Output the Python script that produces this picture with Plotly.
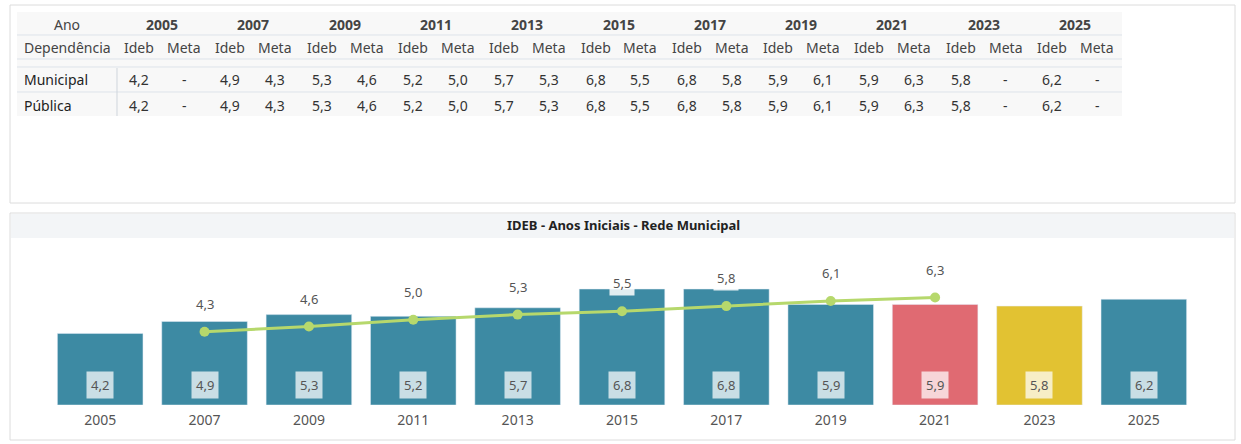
import plotly.graph_objects as go

W, H = 1241, 444
years = ["2005","2007","2009","2011","2013","2015","2017","2019","2021","2023","2025"]
ideb = [4.2,4.9,5.3,5.2,5.7,6.8,6.8,5.9,5.9,5.8,6.2]
meta = [None,4.3,4.6,5.0,5.3,5.5,5.8,6.1,6.3,None,None]
rows = ["Municipal","Pública"]
bar_colors = ["#3d8aa3"]*8 + ["#e06a72","#e2c232","#3d8aa3"]

def fmt(v):
    return "-" if v is None else f"{v:.1f}".replace(".", ",")

def px(x): return x / W
def py(y): return 1 - y / H

idx = list(range(len(years)))
fig = go.Figure()
fig.add_bar(x=idx, y=ideb, marker_color=bar_colors, width=0.82, hoverinfo="skip")
mi = [i for i, m in zip(idx, meta) if m is not None]
mv = [m for m in meta if m is not None]
fig.add_scatter(x=mi, y=mv, mode="lines+markers", line=dict(color="#b6d86c", width=3),
                marker=dict(size=10, color="#b6d86c"), hoverinfo="skip")

ann = []
for i, v in zip(idx, ideb):
    ann.append(dict(x=i, y=1.15, xref="x", yref="y", text=fmt(v), showarrow=False,
                    bgcolor="rgba(255,255,255,0.72)", borderpad=4,
                    font=dict(size=13, color="#555")))
for i, v in zip(mi, mv):
    ann.append(dict(x=i, y=v, xref="x", yref="y", yshift=28, text=fmt(v), showarrow=False,
                    bgcolor="rgba(255,255,255,0.85)", borderpad=3,
                    font=dict(size=13, color="#555")))

shapes = [
    dict(type="rect", xref="paper", yref="paper", x0=px(10), x1=px(1235), y0=py(203), y1=py(5),
         line=dict(color="#dcdcdc", width=1), fillcolor="white", layer="below"),
    dict(type="rect", xref="paper", yref="paper", x0=px(17), x1=px(1122), y0=py(116), y1=py(12),
         line=dict(width=0), fillcolor="#f8f8f8", layer="below"),
    dict(type="rect", xref="paper", yref="paper", x0=px(10), x1=px(1235), y0=py(440), y1=py(213),
         line=dict(color="#dcdcdc", width=1), fillcolor="white", layer="below"),
    dict(type="rect", xref="paper", yref="paper", x0=px(11), x1=px(1234), y0=py(238), y1=py(214),
         line=dict(width=0), fillcolor="#f3f5f7", layer="below"),
]
for yy in [35, 59, 67, 92]:
    shapes.append(dict(type="line", xref="paper", yref="paper", x0=px(17), x1=px(1122),
                       y0=py(yy), y1=py(yy), line=dict(color="#dde3ea", width=1)))
shapes.append(dict(type="line", xref="paper", yref="paper", x0=px(117), x1=px(117),
                   y0=py(116), y1=py(68), line=dict(color="#cfd5dc", width=1)))

def txt(x, y, t, bold=False, anchor="center", size=14, color="#333"):
    ann.append(dict(x=px(x), y=py(y), xref="paper", yref="paper", text=f"<b>{t}</b>" if bold else t,
                    showarrow=False, xanchor=anchor, yanchor="middle",
                    font=dict(size=size, color=color)))

txt(67, 24, "Ano", color="#444")
txt(22, 47, "Dependência", anchor="left", color="#444")
for i, y in enumerate(years):
    c = 162 + i * 91.3
    txt(c, 24, y, bold=True, color="#444")
    txt(c - 23, 47, "Ideb", color="#444")
    txt(c + 22, 47, "Meta", color="#444")
    for ry in [80, 105]:
        txt(c - 23, ry, fmt(ideb[i]))
        txt(c + 22, ry, fmt(meta[i]))
for r, ry in zip(rows, [80, 105]):
    txt(22, ry, r, anchor="left", color="#222")
txt(623, 225, "IDEB - Anos Iniciais - Rede Municipal", bold=True, size=13, color="#222")

fig.update_layout(
    width=W, height=H, margin=dict(l=0, r=0, t=0, b=0),
    paper_bgcolor="white", plot_bgcolor="rgba(0,0,0,0)", showlegend=False,
    font=dict(family="Segoe UI, Noto Sans, sans-serif"),
    shapes=shapes, annotations=ann,
    xaxis=dict(domain=[px(48), px(1196)], range=[-0.5, len(years) - 0.5],
               tickvals=idx, ticktext=years, tickfont=dict(size=14, color="#555"),
               ticklabelstandoff=5,
               showgrid=False, showline=False, zeroline=False, ticks=""),
    yaxis=dict(domain=[py(405), py(243)], range=[0, 9.5], visible=False),
)
fig.write_html("out.html", config={"displayModeBar": False},
               post_script="document.body.style.margin='0';")
